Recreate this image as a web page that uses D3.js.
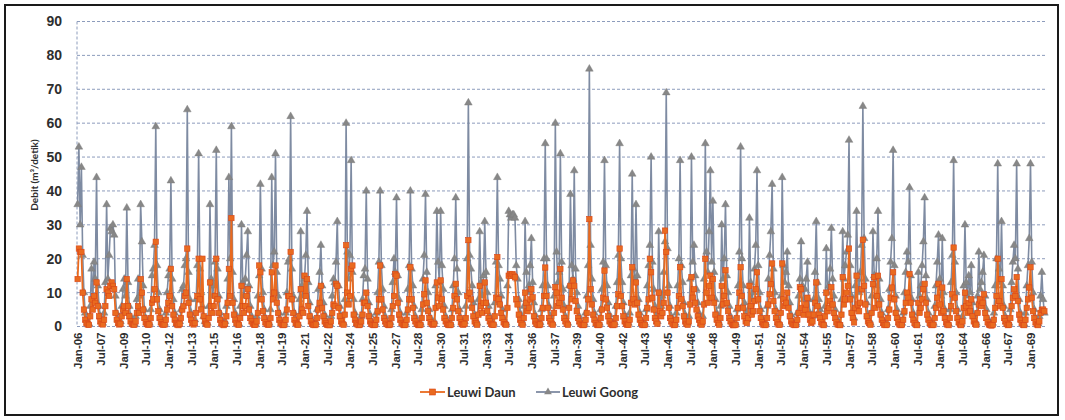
<!DOCTYPE html>
<html>
<head>
<meta charset="utf-8">
<script src="https://cdn.jsdelivr.net/npm/d3@7"></script>
<style>
body { margin: 0; background: #fff; }
svg { display: block; font-family: Lato, 'Noto Sans', sans-serif; }
</style>
</head>
<body>
<div id="chart"></div>
<script>
// monthly discharge, Jan-1906 .. Dec-1969 (one line per year)
var monthNames = ['Jan', 'Feb', 'Mar', 'Apr', 'May', 'Jun', 'Jul', 'Aug', 'Sep', 'Oct', 'Nov', 'Dec'];
var years = d3.range(1906, 1970);

var tickLabels = ['Jan-06', 'Jul-07', 'Jan-09', 'Jul-10', 'Jan-12', 'Jul-13', 'Jan-15', 'Jul-16', 'Jan-18', 'Jul-19',
    'Jan-21', 'Jul-22', 'Jan-24', 'Jul-25', 'Jan-27', 'Jul-28', 'Jan-30', 'Jul-31', 'Jan-33', 'Jul-34',
    'Jan-36', 'Jul-37', 'Jan-39', 'Jul-40', 'Jan-42', 'Jul-43', 'Jan-45', 'Jul-46', 'Jan-48', 'Jul-49',
    'Jan-51', 'Jul-52', 'Jan-54', 'Jul-55', 'Jan-57', 'Jul-58', 'Jan-60', 'Jul-61', 'Jan-63', 'Jul-64',
    'Jan-66', 'Jul-67', 'Jan-69'];
var yTicks = [0, 10, 20, 30, 40, 50, 60, 70, 80, 90];
var seriesNames = ['Leuwi Daun', 'Leuwi Goong'];

var leuwiDaun = [
    14, 23, 22, 22, 10, 5, 2, 1, 0.6, 0.5, 3, 8,
    5, 9, 7, 13, 6, 3, 1.5, 0.8, 0.6, 2, 6, 11,
    10, 9, 12, 13, 12, 11, 4, 2, 1, 0.6, 0.8, 3,
    5, 6, 4, 14, 6, 3, 1.5, 0.8, 0.6, 0.5, 1.5, 4,
    6, 4, 14, 10, 5, 2.5, 1.2, 0.7, 0.5, 0.6, 2.5, 7,
    8, 11, 25, 8, 4.5, 2.5, 1.2, 0.7, 0.5, 0.6, 2, 5,
    7, 9, 17, 6, 3.5, 2, 1, 0.6, 0.4, 0.8, 2.5, 5,
    6, 9, 10, 23, 7, 3.5, 2, 1, 0.6, 1, 4, 9,
    20, 8, 5, 20, 3, 1.5, 0.8, 0.5, 2.5, 13, 6, 4,
    6, 9, 20, 8, 4, 2, 1, 0.6, 0.4, 0.8, 3, 7,
    17, 9, 32, 7, 3.5, 2, 1, 0.6, 0.5, 2.5, 12, 6,
    4, 6, 9, 11, 5, 2.5, 1.5, 0.8, 0.5, 0.5, 1.5, 4,
    18, 16, 8, 4.5, 2.5, 1.2, 0.7, 0.5, 0.6, 2.5, 16, 8,
    10, 18, 7, 4, 2, 1, 0.6, 0.4, 0.5, 2, 5, 9,
    9, 22, 8, 4, 2, 1, 0.6, 0.5, 3, 11, 5, 4,
    15, 9, 14, 6, 3, 1.5, 0.8, 0.5, 0.4, 0.6, 2.5, 5,
    7, 12, 5.5, 3, 1.5, 0.9, 0.5, 0.4, 0.4, 1.5, 4, 6.5,
    6, 12.6, 12, 5.5, 3, 1.5, 0.8, 0.5, 3.5, 24, 10, 6.5,
    9, 17, 18, 3.5, 2, 1, 0.6, 0.4, 0.5, 1.5, 3.5, 7,
    7, 10, 6, 3, 1.5, 0.8, 0.5, 0.4, 0.5, 2, 4.5, 8,
    18, 8, 5, 2.5, 1.5, 0.8, 0.5, 0.4, 0.6, 2.5, 6, 9,
    15.5, 15, 7, 3.5, 2, 1, 0.6, 0.4, 0.5, 2, 5, 8,
    17.5, 8, 5.5, 2.5, 1.5, 0.8, 0.5, 0.4, 0.5, 2.5, 6.5, 9.5,
    13.6, 7, 4.5, 2.5, 1.2, 0.7, 0.5, 0.8, 5.5, 13, 8.5, 6,
    13.6, 8, 5, 2.5, 1.5, 0.8, 0.5, 0.4, 0.5, 2.5, 5.5, 9,
    12.6, 8, 4.5, 2.5, 1.2, 0.7, 0.5, 0.8, 2.5, 9, 25.5, 10,
    8, 5.5, 3, 1.5, 1, 0.5, 3.5, 12, 6, 4, 7, 13,
    7, 4.5, 2.5, 1.5, 0.8, 0.5, 0.5, 3, 8.5, 20.5, 8, 6.5,
    4, 2.5, 1.2, 0.7, 0.5, 5.5, 15, 15.5, 15, 15.5, 15, 14.5,
    8, 6.5, 3.5, 2, 1, 0.5, 2.5, 10, 7, 4.5, 5.5, 8,
    11, 8.6, 3, 1.5, 0.8, 0.5, 0.4, 0.6, 2.5, 5.5, 9, 17.4,
    9, 5.5, 2.5, 1.5, 0.8, 0.5, 4, 11.6, 10, 6, 7, 17,
    8.5, 5, 2.5, 1.5, 0.8, 0.5, 5.5, 12, 8, 13.6, 12, 7.5,
    4.5, 2.5, 1.5, 0.8, 0.5, 0.4, 0.5, 2, 4, 8, 31.7, 11,
    6.5, 3.5, 2, 1, 0.5, 0.4, 0.5, 2.5, 5, 8.5, 16.5, 8,
    5.5, 3, 1.5, 0.8, 0.5, 0.4, 0.6, 2.5, 6, 9.5, 23, 9,
    6, 3, 1.5, 0.8, 0.5, 0.5, 2, 7, 17.5, 8, 6.5, 13,
    7, 3.5, 2, 1, 0.5, 0.4, 0.5, 2.5, 5.5, 8, 20, 16,
    8.5, 5, 2.5, 1.5, 0.8, 10, 4.5, 3, 4, 7, 28.3, 22,
    10, 5.5, 2.5, 1.5, 0.8, 0.4, 0.5, 2, 5.5, 9, 17.5, 8,
    6, 3, 1.5, 0.8, 0.5, 1.5, 6.5, 14.6, 8.5, 11, 7, 5,
    3, 2, 1, 0.5, 1.5, 6.5, 20, 10, 7, 12, 15, 8.5,
    14, 7, 3.5, 2, 1, 0.5, 2.5, 12, 6.5, 9, 16.6, 7,
    4.5, 2.5, 1.5, 0.8, 0.4, 0.4, 0.5, 2.5, 5.5, 10, 17.5, 9,
    5.5, 3, 1.5, 1, 2.5, 12, 6, 3.5, 4.5, 7.5, 11, 16,
    8, 4.5, 2.5, 1.2, 0.6, 0.4, 0.5, 2.5, 6.5, 9.5, 12.5, 18.6,
    7.5, 4.5, 2.5, 1.2, 0.6, 0.5, 4, 18.6, 8, 6, 7, 10,
    5.5, 3, 1.5, 0.8, 0.5, 0.4, 0.5, 2, 4, 11.6, 11, 5.5,
    3.5, 5, 6.5, 8.5, 3.5, 2, 1, 1.5, 3.5, 7, 13, 6,
    3.5, 2.5, 1.2, 0.6, 0.4, 3, 10, 4.5, 5.5, 7.5, 11.6, 6.5,
    4, 2.5, 1.2, 0.6, 0.5, 0.4, 3.5, 14.6, 6.5, 8, 10, 12,
    23, 8, 4, 2.5, 1.2, 5.5, 15, 6.5, 4.5, 7, 11, 25.6,
    12, 6.5, 3, 1.5, 1, 0.5, 4, 12.5, 14.6, 5.5, 9, 15,
    6.5, 3.5, 2, 1, 0.5, 0.4, 0.5, 2.5, 5, 8.5, 11.5, 16,
    8, 4, 2.5, 1.2, 0.6, 0.4, 0.5, 2, 4.5, 7, 10, 8.5,
    15.5, 7, 3.5, 2, 1, 0.5, 0.4, 7, 4, 5.5, 8, 11,
    12.6, 7, 3.5, 2, 1, 0.5, 0.4, 0.5, 2.5, 5.5, 8.5, 12.6,
    6.5, 4, 11.5, 4.5, 2.5, 1.2, 0.6, 0.4, 2.5, 6, 9.5, 23.3,
    8.5, 4.5, 2.5, 1.2, 0.6, 0.4, 1.5, 5.5, 10, 6, 4, 7,
    4.5, 8, 3, 1.5, 0.8, 0.5, 4, 6.5, 8, 6, 7, 9.5,
    4, 2.5, 1.2, 0.6, 0.4, 0.3, 0.5, 2, 5.5, 9, 20, 7.5,
    6, 14, 5.5, 2.5, 1.5, 0.8, 0.4, 0.5, 2.5, 6, 8.5, 11,
    9, 14.6, 7.5, 3.5, 2, 1, 0.5, 0.4, 2, 5.5, 8, 11.5,
    17.5, 8.5, 4.5, 2.5, 1.2, 0.6, 0.4, 1.5, 4, 4.9, 5, 4.5
];

var leuwiGoong = [
    36, 53, 30, 47, 21, 10, 4, 2, 1.2, 0.8, 6, 17,
    8, 19, 14, 44, 12, 6, 3, 1.5, 1, 4, 13, 36,
    14, 21, 29, 28, 30, 27, 9, 4, 2, 1, 1.5, 6,
    11, 14, 9, 35, 13, 6, 3, 1.5, 1, 0.8, 3, 8,
    14, 9, 36, 25, 12, 5, 2.5, 1.2, 0.8, 1, 5, 15,
    17, 24, 59, 18, 10, 5, 2.5, 1.2, 0.8, 1, 4, 10,
    15, 17, 43, 14, 8, 4, 2, 1, 0.7, 1.5, 5, 11,
    12, 18, 20, 64, 16, 8, 4, 2, 1, 2, 8, 18,
    51, 17, 10, 6, 3, 1.5, 0.8, 1, 6, 36, 14, 9,
    12, 19, 52, 17, 9, 4, 2, 1, 0.7, 1.5, 6, 14,
    44, 20, 59, 16, 8, 4, 2, 1, 0.8, 6, 30, 13,
    9, 14, 21, 28, 12, 6, 3, 1.5, 1, 0.8, 3, 9,
    15, 42, 17, 10, 5, 2.5, 1.2, 0.8, 1, 5, 44, 18,
    22, 51, 16, 9, 4, 2, 1, 0.7, 1, 4, 10, 19,
    20, 62, 17, 9, 4, 2, 1, 0.8, 8, 28, 12, 9,
    14, 21, 34, 13, 7, 3, 1.5, 0.8, 0.6, 1.2, 5, 11,
    16, 24, 12, 7, 3.5, 1.8, 0.9, 0.6, 0.8, 3, 9, 14,
    13, 19, 31, 12, 6, 3, 1.5, 1, 8, 60, 22, 14,
    21, 49, 16, 8, 4, 2, 1, 0.7, 0.9, 3, 8, 15,
    17, 40, 14, 7, 3.5, 1.8, 0.9, 0.6, 1, 4, 10, 19,
    40, 18, 11, 6, 3, 1.5, 0.8, 0.6, 1.2, 5, 13, 20,
    16, 38, 15, 8, 4, 2, 1, 0.7, 1, 4, 11, 18,
    40, 17, 12, 6, 3, 1.5, 0.8, 0.6, 1, 5, 14, 21,
    39, 16, 10, 5, 2.5, 1.3, 0.8, 1.5, 12, 34, 19, 13,
    34, 18, 11, 6, 3, 1.5, 0.8, 0.6, 1, 5, 12, 20,
    38, 17, 10, 5, 2.5, 1.3, 0.8, 1.5, 6, 20, 66, 21,
    17, 12, 7, 3.5, 2, 1, 8, 28, 13, 9, 15, 31,
    16, 10, 6, 3, 1.5, 0.8, 1, 7, 19, 44, 18, 14,
    9, 5, 2.5, 1.3, 1, 12, 34, 33, 32, 33, 33, 32,
    18, 14, 8, 4, 2, 1, 6, 31, 16, 10, 12, 18,
    26, 13, 7, 3.5, 1.8, 1, 0.7, 1.2, 5, 12, 20, 54,
    20, 12, 6, 3, 1.5, 1, 9, 60, 22, 13, 16, 51,
    19, 11, 6, 3, 1.5, 1, 12, 39, 18, 14, 46, 17,
    10, 6, 3, 1.5, 0.8, 0.6, 1, 4, 9, 18, 76, 24,
    14, 8, 4, 2, 1, 0.7, 1, 5, 11, 19, 49, 18,
    12, 7, 3.5, 1.8, 1, 0.7, 1.2, 6, 13, 21, 54, 20,
    13, 7, 3.5, 1.8, 1, 1, 4, 15, 45, 17, 14, 36,
    15, 8, 4, 2, 1, 0.7, 1, 5, 12, 18, 24, 50,
    19, 11, 6, 3, 1.5, 28, 10, 6, 9, 16, 25, 69,
    23, 12, 6, 3, 1.5, 0.8, 1, 4, 12, 20, 49, 18,
    13, 7, 3.5, 1.8, 1, 3, 14, 50, 19, 24, 15, 11,
    7, 4, 2, 1, 3, 14, 54, 22, 16, 28, 46, 19,
    37, 16, 8, 4, 2, 1, 6, 30, 14, 20, 36, 15,
    10, 6, 3, 1.5, 0.8, 0.6, 1, 5, 12, 22, 53, 20,
    12, 7, 3.5, 2, 5, 32, 13, 8, 10, 17, 24, 46,
    18, 10, 5, 2.5, 1.2, 0.8, 1, 6, 14, 21, 28, 42,
    17, 10, 5, 2.5, 1.2, 1, 9, 44, 18, 13, 16, 22,
    12, 7, 3.5, 1.8, 1, 0.7, 1, 4, 9, 14, 25, 12,
    8, 11, 14, 19, 8, 4, 2, 3, 8, 16, 31, 13,
    8, 5, 2.5, 1.3, 0.8, 6, 23, 10, 12, 17, 29, 14,
    9, 5, 2.5, 1.3, 1, 0.8, 8, 28, 14, 18, 22, 27,
    55, 18, 9, 5, 2.5, 12, 34, 14, 10, 16, 24, 65,
    26, 14, 7, 3.5, 2, 1, 9, 28, 15, 12, 20, 34,
    14, 8, 4, 2, 1, 0.7, 1, 5, 11, 19, 26, 52,
    18, 9, 5, 2.5, 1.2, 0.8, 1, 4, 10, 16, 22, 19,
    41, 15, 8, 4, 2, 1, 0.8, 16, 9, 12, 18, 25,
    38, 15, 8, 4, 2, 1, 0.7, 1, 6, 12, 19, 27,
    14, 9, 26, 10, 5, 2.5, 1.2, 0.8, 5, 13, 21, 49,
    19, 10, 5, 2.5, 1.2, 0.8, 3, 12, 30, 13, 9, 15,
    10, 18, 7, 3.5, 1.8, 1, 9, 22, 11, 13, 16, 21,
    9, 5, 2.5, 1.3, 0.8, 0.6, 1, 4, 12, 20, 48, 17,
    13, 31, 12, 6, 3, 1.5, 0.8, 1, 5, 13, 19, 24,
    20, 48, 17, 8, 4, 2, 1, 0.7, 4, 12, 18, 26,
    48, 19, 10, 5, 2.5, 1.2, 0.8, 3, 9, 16, 8, 4
];

// category keys like "Jan-06"
var categories = [];
years.forEach(function(yr) {
    monthNames.forEach(function(m) {
        categories.push(m + '-' + String(yr).slice(2));
    });
});

var svgWidth = 1065;
var svgHeight = 420;
var plotLeft = 77, plotRight = 1045, plotTop = 21.5, plotBottom = 326.5;

var daunColor = '#e96a1f';
var daunEdge = '#d9461a';
var goongLine = '#7e8ba2';
var goongMarker = '#878787';
var gridColor = '#8d9cbc';

var svg = d3.select('#chart')
    .append('svg')
    .attr('width', svgWidth)
    .attr('height', svgHeight);

// outer frame
svg.append('rect')
    .attr('x', 5)
    .attr('y', 5)
    .attr('width', 1053)
    .attr('height', 410)
    .attr('fill', 'none')
    .attr('stroke', '#1a1a1a')
    .attr('stroke-width', 2);

var x = d3.scalePoint()
    .domain(categories)
    .range([plotLeft, plotRight])
    .padding(0.5);

var y = d3.scaleLinear()
    .domain([0, 90])
    .range([plotBottom, plotTop]);

// gridlines
svg.selectAll('line.grid')
    .data(yTicks)
    .enter()
    .append('line')
    .classed('grid', true)
    .attr('x1', plotLeft)
    .attr('x2', plotRight)
    .attr('y1', function(d) { return y(d); })
    .attr('y2', function(d) { return y(d); })
    .attr('stroke', gridColor)
    .attr('stroke-width', 1)
    .attr('stroke-dasharray', '3,2');

svg.append('line')
    .attr('x1', plotLeft)
    .attr('x2', plotLeft)
    .attr('y1', plotTop)
    .attr('y2', plotBottom)
    .attr('stroke', gridColor)
    .attr('stroke-width', 1)
    .attr('stroke-dasharray', '3,2');

// y axis labels
var yAxis = svg.append('g')
    .attr('transform', 'translate(' + plotLeft + ',0)')
    .call(d3.axisLeft(y).tickValues(yTicks).tickSize(0).tickPadding(15));
yAxis.select('.domain').remove();
yAxis.selectAll('text')
    .attr('fill', '#2e2e2e')
    .style('font-size', '14px')
    .style('font-weight', 'bold');

// x axis labels, rotated
var xAxis = svg.append('g')
    .attr('transform', 'translate(0,' + plotBottom + ')')
    .call(d3.axisBottom(x).tickValues(tickLabels).tickSize(0));
xAxis.select('.domain').remove();
xAxis.selectAll('text')
    .attr('transform', 'rotate(-90)')
    .attr('x', -6)
    .attr('y', 0)
    .attr('dy', '0.35em')
    .attr('fill', '#2e2e2e')
    .style('text-anchor', 'end')
    .style('font-size', '11.5px')
    .style('font-weight', 'bold');

// y title
svg.append('text')
    .attr('transform', 'translate(38,175) rotate(-90)')
    .attr('text-anchor', 'middle')
    .attr('fill', '#2e2e2e')
    .style('font-size', '10px')
    .style('font-weight', 'bold')
    .text('Debit (m³/detik)');

var line = d3.line()
    .x(function(d, i) { return x(categories[i]); })
    .y(function(d) { return y(d); });

var tri = d3.symbol().type(d3.symbolTriangle).size(26);

// Leuwi Goong underneath so the orange mass stays visible
svg.append('path')
    .datum(leuwiGoong)
    .attr('d', line)
    .attr('fill', 'none')
    .attr('stroke', goongLine)
    .attr('stroke-width', 1.6);

svg.selectAll('path.goong')
    .data(leuwiGoong)
    .enter()
    .append('path')
    .classed('goong', true)
    .attr('d', tri)
    .attr('transform', function(d, i) {
        return 'translate(' + x(categories[i]) + ',' + y(d) + ')';
    })
    .attr('fill', goongMarker)
    .attr('stroke', '#7a7a7a')
    .attr('stroke-width', 0.4);

// Leuwi Daun
svg.append('path')
    .datum(leuwiDaun)
    .attr('d', line)
    .attr('fill', 'none')
    .attr('stroke', daunColor)
    .attr('stroke-width', 1.8);

svg.selectAll('rect.daun')
    .data(leuwiDaun)
    .enter()
    .append('rect')
    .classed('daun', true)
    .attr('x', function(d, i) { return x(categories[i]) - 2.7; })
    .attr('y', function(d) { return y(d) - 2.7; })
    .attr('width', 5.4)
    .attr('height', 5.4)
    .attr('fill', daunColor)
    .attr('stroke', daunEdge)
    .attr('stroke-width', 0.6);

// legend
var legend = svg.append('g').attr('transform', 'translate(0,392)');

legend.append('line')
    .attr('x1', 420).attr('x2', 445).attr('y1', 0).attr('y2', 0)
    .attr('stroke', daunColor).attr('stroke-width', 1.8);
legend.append('rect')
    .attr('x', 429.5).attr('y', -3).attr('width', 6).attr('height', 6)
    .attr('fill', daunColor).attr('stroke', daunEdge).attr('stroke-width', 0.6);
legend.append('text')
    .attr('x', 447).attr('y', 0).attr('dy', '0.35em')
    .attr('fill', '#2e2e2e')
    .style('font-size', '13px').style('font-weight', 'bold')
    .text(seriesNames[0]);

legend.append('line')
    .attr('x1', 536).attr('x2', 560).attr('y1', 0).attr('y2', 0)
    .attr('stroke', goongLine).attr('stroke-width', 1.8);
legend.append('path')
    .attr('d', tri)
    .attr('transform', 'translate(548,0)')
    .attr('fill', goongMarker);
legend.append('text')
    .attr('x', 562).attr('y', 0).attr('dy', '0.35em')
    .attr('fill', '#2e2e2e')
    .style('font-size', '13px').style('font-weight', 'bold')
    .text(seriesNames[1]);
</script>
</body>
</html>
